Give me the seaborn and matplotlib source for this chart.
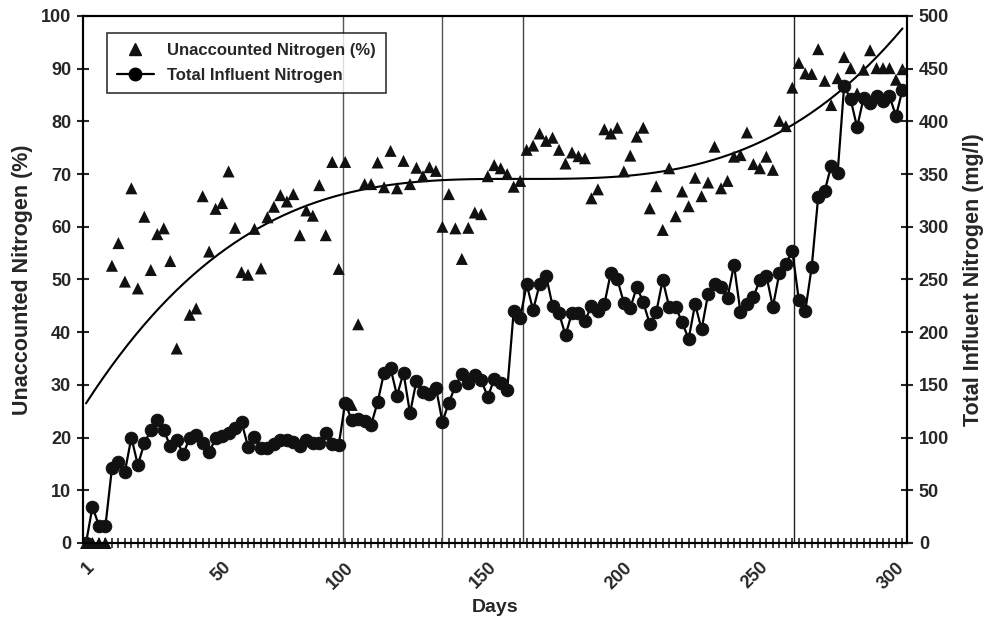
import numpy as np
import pandas as pd
import seaborn as sns
import matplotlib.pyplot as plt
from matplotlib.lines import Line2D

# Unaccounted nitrogen (%) and total influent nitrogen (mg/l) per sampling day (category index)

unaccounted_pct = [
    0, 0, 0, 0, 52.6, 56.9, 49.6, 67.3, 48.3, 61.9,
    51.8, 58.6, 59.7, 53.5, 36.9, np.nan, 43.3, 44.5, 65.8, 55.3,
    63.4, 64.5, 70.5, 59.8, 51.4, 50.9, 59.6, 52.1, 61.8, 63.8,
    66.0, 64.8, 66.2, 58.4, 63.1, 62.1, 67.9, 58.4, 72.3, 52.0,
    72.3, 26.2, 41.5, 68.1, 68.1, 72.2, 67.5, 74.4, 67.3, 72.5,
    68.1, 71.2, 69.6, 71.3, 70.6, 60.0, 66.2, 59.7, 53.9, 59.8,
    62.7, 62.4, 69.6, 71.7, 71.1, 70.0, 67.6, 68.7, 74.6, 75.4,
    77.7, 76.3, 76.9, 74.6, 72.0, 74.1, 73.4, 73.0, 65.4, 67.1,
    78.5, 77.7, 78.8, 70.5, 73.5, 77.1, 78.8, 63.5, 67.7, 59.4,
    71.1, 62.0, 66.7, 63.9, 69.3, 65.8, 68.4, 75.2, 67.3, 68.7,
    73.3, 73.6, 77.9, 71.9, 71.1, 73.3, 70.8, 80.1, 79.1, 86.4,
    91.1, 89.1, 89.0, 93.7, 87.7, 83.1, 88.2, 92.2, 90.1, 85.3,
    89.8, 93.5, 90.1, 90.1, 90.1, 87.9, 89.9,
]

influent_mgl = [
    0, 34.4, 16.4, 16.4, 70.9, 77, 67.6, 100, 74, 94.6,
    107, 117, 107, 92, 98, 84, 100, 102.5, 94.6, 86,
    99.3, 101.5, 104.6, 108.8, 114.8, 91.4, 101, 89.8, 89.8, 94,
    98, 97.7, 96, 92, 98, 95, 95, 104, 93.6, 93,
    133, 116.7, 118, 115.7, 112, 133.5, 161.6, 165.7, 139.8, 161.6,
    123, 154, 143.6, 141.4, 147.4, 115, 133, 149, 160.3, 152,
    159, 154.6, 138.5, 155.6, 152, 145, 219.8, 213, 245.4, 221,
    245.4, 253.6, 225, 218, 197, 218.5, 218.5, 210.6, 225, 220,
    226.7, 256.5, 250, 228, 222.7, 243, 228.4, 207.8, 218.9, 249.5,
    224, 224, 209.4, 193.5, 226.7, 202.7, 236, 245.4, 242.6, 232.7,
    263.8, 218.9, 226.5, 233.7, 249.5, 253.6, 224, 255.9, 264.7, 277,
    231, 220, 262, 328.6, 334, 357.7, 351.3, 433.6, 421, 394.4,
    422, 417, 424, 419.7, 424, 405, 429.8,
]

day_labels = ['1', '50', '100', '150', '200', '250', '300']
day_label_pos = [0, 21, 40, 62, 83, 104, 125]
phase_changes = [39.7, 54.9, 67.5, 109.2]
phase_colors = ['#555555', '#555555', '#444444', '#222222']

df = pd.DataFrame({
    'sample': np.arange(len(influent_mgl)),
    'unaccounted': unaccounted_pct,
    'influent': influent_mgl,
})

sns.set_style("ticks")
plt.rcParams['font.family'] = ['Liberation Sans', 'DejaVu Sans']
plt.rcParams['font.weight'] = 'bold'

fig = plt.figure(figsize=(9.85, 6.19), dpi=100)
ax = fig.add_axes([0.0843, 0.1228, 0.8365, 0.8514])
ax2 = ax.twinx()

# phase change markers
for xv, c in zip(phase_changes, phase_colors):
    ax.axvline(xv, color=c, linewidth=1.0, zorder=1)

sns.scatterplot(data=df, x='sample', y='unaccounted', marker='^', s=75,
                color='#111111', edgecolor='none', clip_on=False, zorder=3, ax=ax)
# polynomial trend line through the unaccounted nitrogen points
sns.regplot(data=df, x='sample', y='unaccounted', order=3, scatter=False, ci=None,
            color='black', line_kws={'linewidth': 1.5}, ax=ax)
sns.lineplot(data=df, x='sample', y='influent', color='black', linewidth=1.6,
             marker='o', markersize=9, markeredgecolor='#111111',
             markerfacecolor='#111111', legend=False, ax=ax2)

ax.set_xlim(-0.46, 126.7)
ax.set_ylim(0, 100)
ax2.set_ylim(0, 500)

ax.set_yticks(np.arange(0, 101, 10))
ax2.set_yticks(np.arange(0, 501, 50))
xt_labels = [''] * len(df)
for p, lab in zip(day_label_pos, day_labels):
    xt_labels[p] = lab
ax.set_xticks(df['sample'])
ax.set_xticklabels(xt_labels, rotation=45, ha='right', va='top', rotation_mode='anchor')

ax.tick_params(axis='y', direction='inout', length=9, width=1.5, labelsize=13, pad=4)
ax2.tick_params(axis='y', direction='inout', length=9, width=1.5, labelsize=13, pad=4)
ax.tick_params(axis='x', direction='inout', length=7, width=1.2, labelsize=13, pad=8)

for a in (ax, ax2):
    for sp in a.spines.values():
        sp.set_visible(True)
        sp.set_linewidth(1.5)
        sp.set_color('black')

ax.set_xlabel('Days', fontsize=14, fontweight='bold', labelpad=5)
ax.set_ylabel('Unaccounted Nitrogen (%)', fontsize=15.5, fontweight='bold', labelpad=6)
ax2.set_ylabel('Total Influent Nitrogen (mg/l)', fontsize=15.5, fontweight='bold', labelpad=10)

handles = [
    Line2D([], [], linestyle='none', marker='^', markersize=9, color='#111111'),
    Line2D([], [], color='black', linewidth=1.6, marker='o', markersize=9),
]
leg = ax2.legend(handles, ['Unaccounted Nitrogen (%)', 'Total Influent Nitrogen'],
                 loc='upper left', bbox_to_anchor=(0.029, 0.968), borderaxespad=0,
                 frameon=True, fancybox=False, edgecolor='black', fontsize=12,
                 handlelength=2.2, handletextpad=0.8, borderpad=0.6, labelspacing=0.6)
leg.get_frame().set_linewidth(1.2)

fig.savefig('out.png', dpi=100)
